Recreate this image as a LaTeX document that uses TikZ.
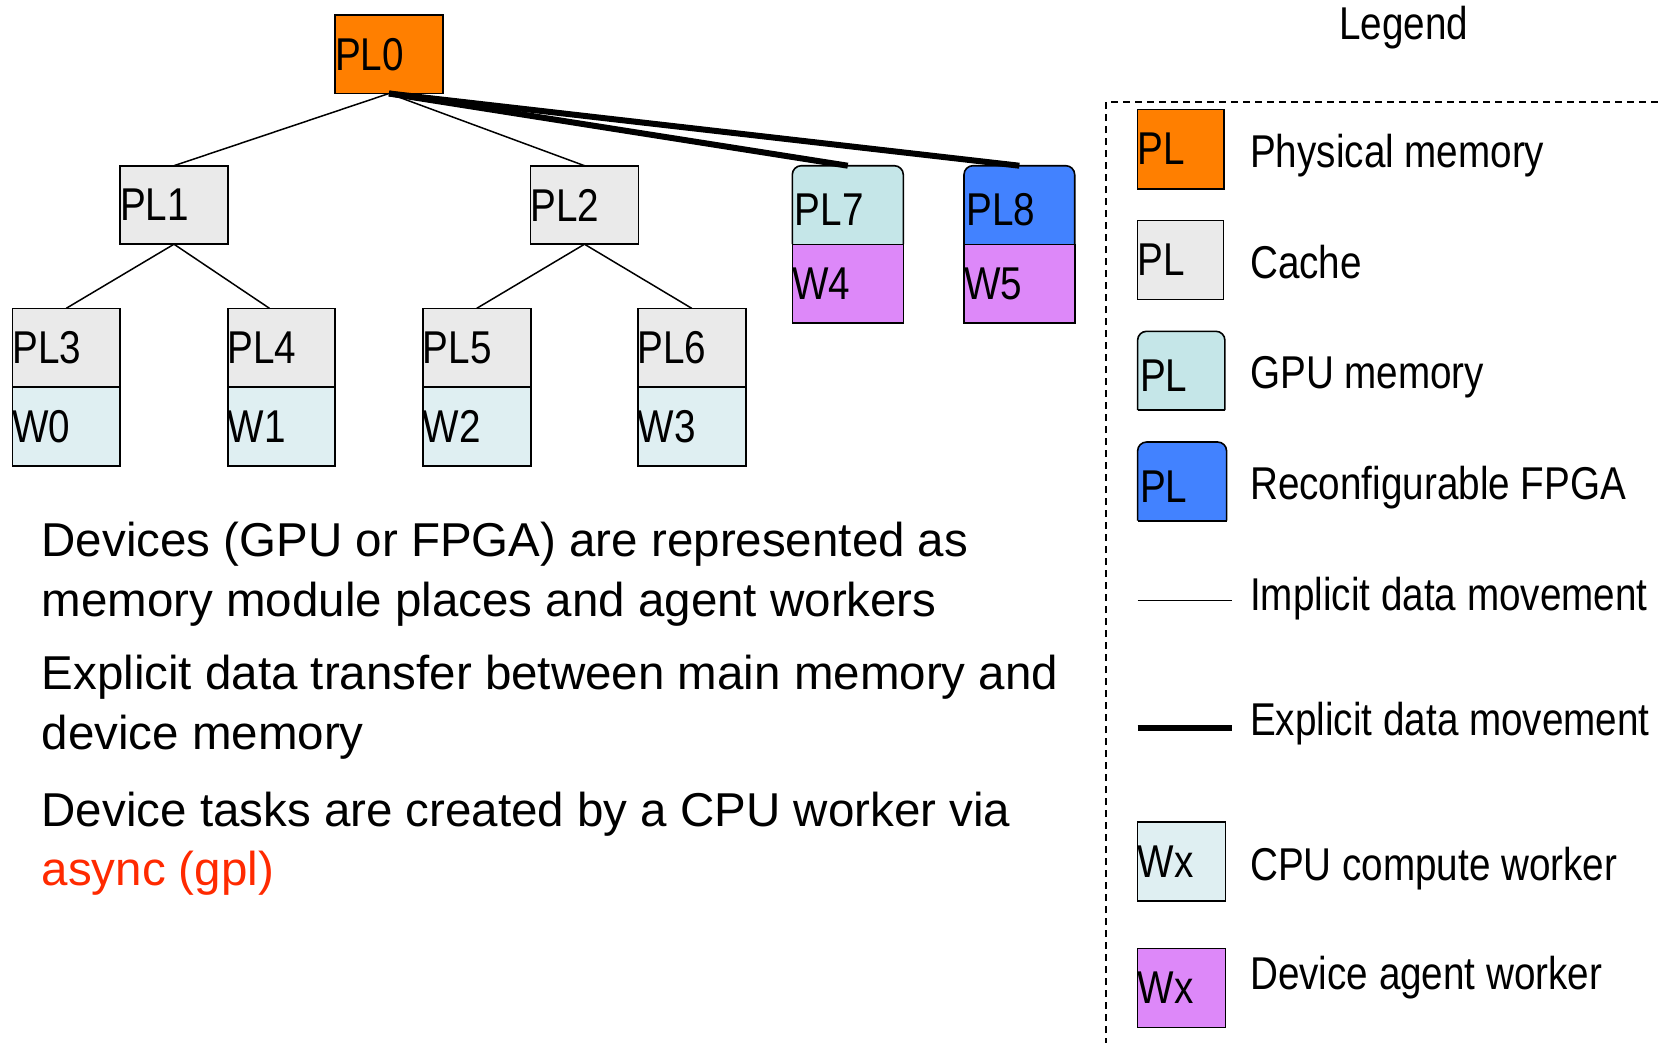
\documentclass[tikz,border=0pt]{standalone}
\usepackage{fontspec}
\setmainfont{Liberation Sans}
\newfontfamily\narrowfont[FakeStretch=0.84]{Liberation Sans}
\usetikzlibrary{backgrounds,calc}
\definecolor{physC}{HTML}{FF7F00}
\definecolor{cacheC}{HTML}{EAEAEA}
\definecolor{gpuC}{HTML}{C5E6E8}
\definecolor{fpgaC}{HTML}{4282FF}
\definecolor{cpuC}{HTML}{DFEFF2}
\definecolor{agentC}{HTML}{DD88F9}
\definecolor{asyncC}{HTML}{FF2A00}
\tikzset{
  box/.style={draw, line width=1.6pt, anchor=north west, inner xsep=0pt, inner ysep=0pt,
    outer sep=0pt, minimum height=78.5pt, align=left,
    font=\narrowfont\fontsize{46}{50}\selectfont},
  rbox/.style={box, draw=none, inner xsep=2.5pt, text height=41.7pt},
  roundfill/.style={line width=1.6pt, rounded corners=9pt},
  implicit/.style={line width=1.5pt},
  explicit/.style={line width=6pt},
  bodytext/.style={anchor=base west, inner sep=0pt, font=\fontsize{47.5}{56}\selectfont},
  legtext/.style={anchor=base west, inner sep=0pt, font=\narrowfont\fontsize{46}{50}\selectfont},
  legframe/.style={line width=1.5pt, dash pattern=on 7pt off 5pt},
}
\begin{document}
\begin{tikzpicture}[x=1pt, y=-1pt]
\useasboundingbox (0,0) rectangle (1661,1042);

% ---- tree ----
\node[box, fill=physC, text width=108pt] (PL0) at (335,15) {PL0};
\node[box, fill=cacheC, text width=108pt] (PL1) at (120,165.7) {PL1};
\node[box, fill=cacheC, text width=108pt] (PL2) at (530.5,165.7) {PL2};
\node[box, fill=cacheC, text width=107.5pt] (PL3) at (12.5,308.3) {PL3};
\node[box, fill=cpuC, text width=107.5pt] (W0) at (12.5,387.3) {W0};
\node[box, fill=cacheC, text width=107.5pt] (PL4) at (227.7,308.3) {PL4};
\node[box, fill=cpuC, text width=107.5pt] (W1) at (227.7,387.3) {W1};
\node[box, fill=cacheC, text width=108pt] (PL5) at (422.8,308.3) {PL5};
\node[box, fill=cpuC, text width=108pt] (W2) at (422.8,387.3) {W2};
\node[box, fill=cacheC, text width=108pt] (PL6) at (637.7,308.3) {PL6};
\node[box, fill=cpuC, text width=108pt] (W3) at (637.7,387.3) {W3};
\node[rbox, text width=106pt] (PL7) at (792.3,165.7) {PL7};
\node[box, fill=agentC, text width=111pt] (W4) at (792.3,244.3) {W4};
\node[rbox, text width=105.7pt] (PL8) at (964,165.7) {PL8};
\node[box, fill=agentC, text width=110.7pt] (W5) at (964,244.3) {W5};

% ---- legend ----
\node[anchor=base west, inner sep=0pt, font=\narrowfont\fontsize{46}{50}\selectfont] (legtitle) at (1339,39.3) {Legend};
\node[box, fill=physC, text width=86.2pt, minimum height=79.4pt] (LPhys) at (1137.6,109.3) {PL};
\node[box, fill=cacheC, text width=86pt, minimum height=79pt] (LCache) at (1137.6,220.3) {PL};
\node[rbox, text width=82.3pt, minimum height=78.7pt] (LGpu) at (1137.6,331.3) {PL};
\node[rbox, text width=84pt, minimum height=78.7pt] (LFpga) at (1137.6,442) {PL};
\node[box, fill=cpuC, text width=88pt, minimum height=79pt] (LCpu) at (1137.6,821.7) {Wx};
\node[box, fill=agentC, text width=88pt, minimum height=79pt] (LAgent) at (1137.6,948.3) {Wx};

\node[legtext] (tPhys) at (1250,167.3) {Physical memory};
\node[legtext] (tCache) at (1250,278.3) {Cache};
\node[legtext] (tGpu) at (1250,388.3) {GPU memory};
\node[legtext] (tFpga) at (1250,499) {Reconfigurable FPGA};
\node[legtext] (tImpl) at (1250,610) {Implicit data movement};
\node[legtext] (tExpl) at (1250,735) {Explicit data movement};
\node[legtext] (tCpu) at (1250,880.5) {CPU compute worker};
\node[legtext] (tAgent) at (1250,989.5) {Device agent worker};

\coordinate (li1) at (1137.6,600.7);
\coordinate (li2) at (1231.7,600.7);
\coordinate (le1) at (1137.6,728.3);
\coordinate (le2) at (1231.7,728.3);
\draw[implicit] (li1) -- (li2);
\draw[line width=6pt] (le1) -- (le2);

\draw[legframe] (1106,1045) -- (1106,102) -- (1665,102);

% ---- body text ----
\node[bodytext] (b1) at (41.5,556) {Devices (GPU or FPGA) are represented as};
\node[bodytext] (b2) at (41.5,616) {memory module places and agent workers};
\node[bodytext] (b3) at (41.5,689.3) {Explicit data transfer between main memory and};
\node[bodytext] (b4) at (41.5,749.3) {device memory};
\node[bodytext] (b5) at (41.5,826.7) {Device tasks are created by a CPU worker via};
\node[bodytext, text=asyncC] (b6) at (41.5,885) {async (gpl)};

% ---- connectors ----
\draw[implicit] (PL0.south) -- (PL1.north);
\draw[implicit] (PL0.south) -- (PL2.north);
\draw[implicit] (PL1.south) -- (PL3.north);
\draw[implicit] (PL1.south) -- ([xshift=-12pt]PL4.north);
\draw[implicit] (PL2.south) -- (PL5.north);
\draw[implicit] (PL2.south) -- (PL6.north);
\draw[explicit] (PL0.south) -- (PL7.north);
\draw[explicit] (PL0.south) -- (PL8.north);

% ---- rounded-top fills ----
\begin{scope}[on background layer]
  \fill[white] (0,0) rectangle (1661,1042);
  \filldraw[roundfill, fill=gpuC] (PL7.south west) -- (PL7.north west) -- (PL7.north east) -- (PL7.south east);
  \filldraw[roundfill, fill=fpgaC] (PL8.south west) -- (PL8.north west) -- (PL8.north east) -- (PL8.south east);
  \filldraw[roundfill, fill=gpuC] (LGpu.south west) -- (LGpu.north west) -- (LGpu.north east) -- (LGpu.south east);
  \filldraw[roundfill, fill=fpgaC] (LFpga.south west) -- (LFpga.north west) -- (LFpga.north east) -- (LFpga.south east);
  \draw[line width=1.6pt] (LGpu.south west) -- (LGpu.south east);
  \draw[line width=1.6pt] (LFpga.south west) -- (LFpga.south east);
\end{scope}
\end{tikzpicture}
\end{document}
